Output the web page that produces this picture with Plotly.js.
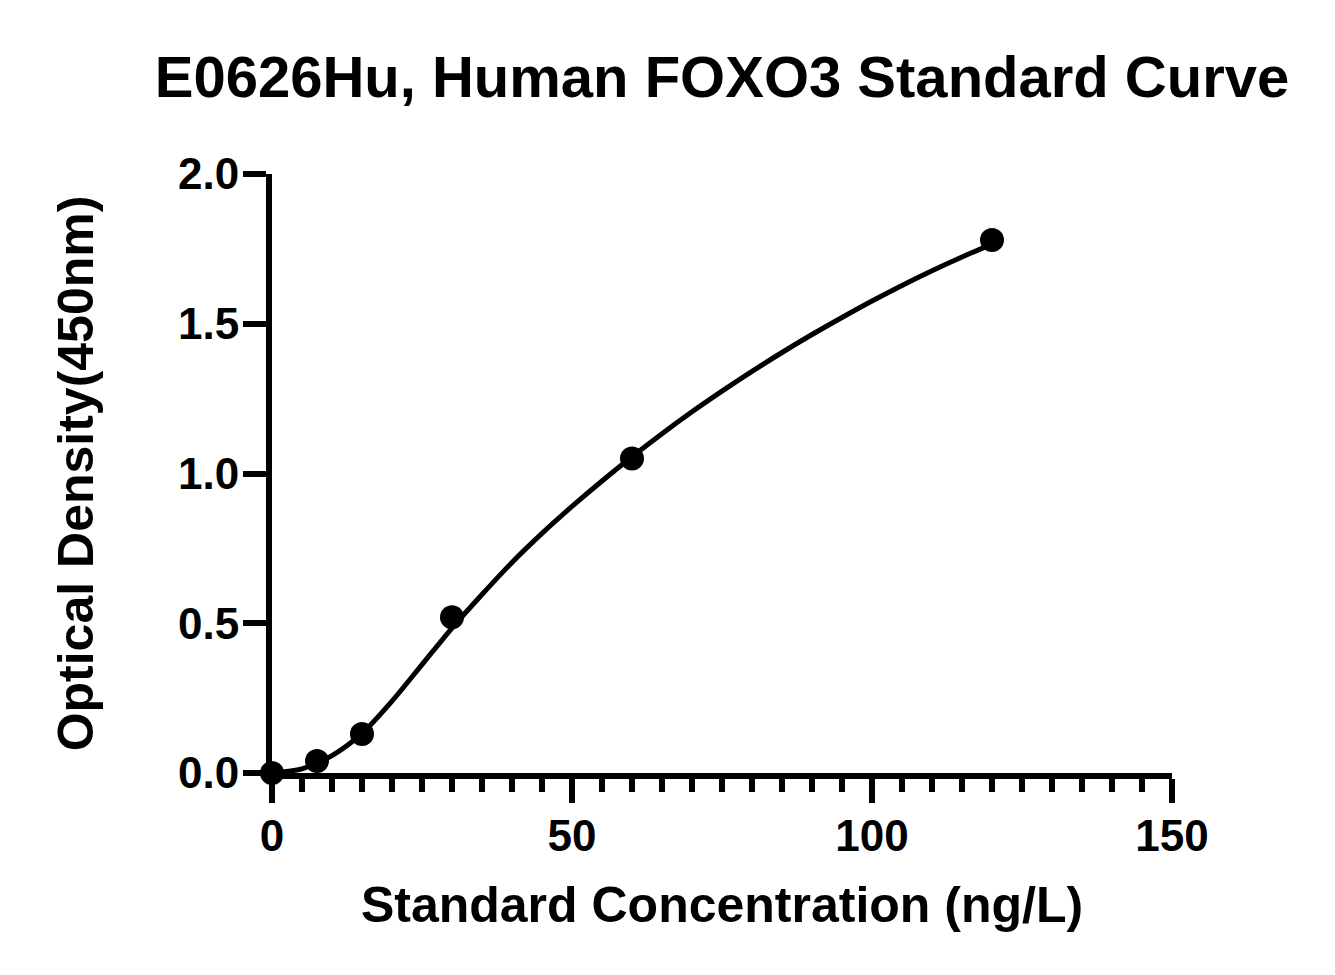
<!DOCTYPE html>
<html>
<head>
<meta charset="utf-8">
<script src="https://cdn.plot.ly/plotly-3.0.1.min.js"></script>
<style>
  html, body { margin: 0; padding: 0; background: #fff; }
  #chart { width: 1335px; height: 975px; }
</style>
</head>
<body>
<div id="chart"></div>
<script>
// standard points
var concentrations = [0, 7.5, 15, 30, 60, 120];
var odValues = [0.0, 0.04, 0.13, 0.52, 1.05, 1.78];

// fitted curve
var curveX = [0, 5, 10, 15, 20, 25, 30, 35, 40, 45, 50, 55, 60, 65, 70, 75, 80, 85, 90, 95, 100, 105, 110, 115, 120];
var curveY = [0.0, 0.014, 0.058, 0.132, 0.240, 0.362, 0.484, 0.596, 0.703, 0.800, 0.890, 0.975, 1.056, 1.133, 1.206, 1.275, 1.341, 1.404, 1.464, 1.521, 1.576, 1.628, 1.677, 1.723, 1.766];

var chartTitle = 'E0626Hu, Human FOXO3 Standard Curve';
var xTitle = 'Standard Concentration (ng/L)';
var yTitle = 'Optical Density(450nm)';
var yTickVals = [0, 0.5, 1.0, 1.5, 2.0];
var yTickText = ['0.0', '0.5', '1.0', '1.5', '2.0'];

var fontFamily = 'Arial, "Liberation Sans", sans-serif';

var traces = [
    {
        x: curveX,
        y: curveY,
        mode: 'lines',
        type: 'scatter',
        line: {color: '#000', width: 5, shape: 'spline', smoothing: 0.8},
        cliponaxis: false,
        hoverinfo: 'skip'
    },
    {
        x: concentrations,
        y: odValues,
        mode: 'markers',
        type: 'scatter',
        marker: {color: '#000', size: 24},
        cliponaxis: false
    }
];

var layout = {
    width: 1335,
    height: 975,
    paper_bgcolor: '#fff',
    plot_bgcolor: '#fff',
    showlegend: false,
    margin: {l: 272, r: 163, t: 174, b: 202},
    font: {family: fontFamily, color: '#000', weight: 'bold'},
    title: {
        text: chartTitle,
        font: {family: fontFamily, size: 58, color: '#000', weight: 'bold'},
        xref: 'paper', x: 0.5, xanchor: 'center',
        yref: 'container', y: 1 - 77 / 975, yanchor: 'middle'
    },
    xaxis: {
        range: [0, 150],
        tickmode: 'linear', tick0: 0, dtick: 50,
        ticks: 'outside', ticklen: 24, tickwidth: 6, tickcolor: '#000',
        minor: {dtick: 5, ticks: 'outside', ticklen: 13, tickwidth: 6, tickcolor: '#000', showgrid: false},
        showline: true, linewidth: 6, linecolor: '#000',
        showgrid: false, zeroline: false,
        tickfont: {family: fontFamily, size: 44, color: '#000', weight: 'bold'},
        ticklabelstandoff: -5,
        title: {text: xTitle, standoff: 30, font: {family: fontFamily, size: 50, color: '#000', weight: 'bold'}},
        automargin: false
    },
    yaxis: {
        range: [0, 2],
        tickmode: 'array', tickvals: yTickVals, ticktext: yTickText,
        ticks: 'outside', ticklen: 23, tickwidth: 6, tickcolor: '#000',
        showline: true, linewidth: 6, linecolor: '#000',
        showgrid: false, zeroline: false,
        tickfont: {family: fontFamily, size: 44, color: '#000', weight: 'bold'},
        ticklabelstandoff: -5,
        title: {text: yTitle, standoff: 71, font: {family: fontFamily, size: 50, color: '#000', weight: 'bold'}},
        automargin: false
    }
};

Plotly.newPlot('chart', traces, layout, {staticPlot: true, displayModeBar: false});
</script>
</body>
</html>
